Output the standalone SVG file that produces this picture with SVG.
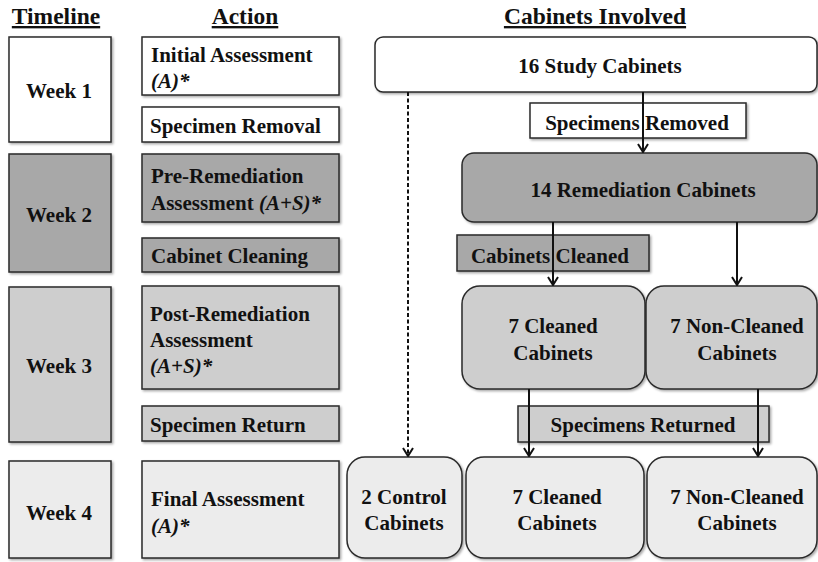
<svg xmlns="http://www.w3.org/2000/svg" width="818" height="562" viewBox="0 0 818 562">
<defs>
<filter id="sh" x="-10%" y="-10%" width="130%" height="130%">
<feDropShadow dx="1.5" dy="1.5" stdDeviation="1.2" flood-color="#000" flood-opacity="0.35"/>
</filter>
<marker id="ahd" viewBox="0 0 12 10" refX="6" refY="9" markerWidth="12" markerHeight="10" markerUnits="userSpaceOnUse" orient="0">
<path d="M1,1 L6,9 L11,1" fill="none" stroke="#111" stroke-width="2"/>
</marker>
</defs>
<style>
.t{font-family:'Times New Roman','Liberation Serif','DejaVu Serif',serif;font-weight:bold;font-size:21px;fill:#111}
.h{font-family:'Times New Roman','Liberation Serif','DejaVu Serif',serif;font-weight:bold;font-size:23.5px;fill:#111;text-decoration:underline}
.c{text-anchor:middle}
.b{stroke:#2a2a2a;stroke-width:1.5;filter:url(#sh)}
.w{fill:#fff}
.g2{fill:#a8a8a8}
.g3{fill:#cecece}
.g4{fill:#ececec}
.conn{stroke:#111;stroke-width:2;fill:none}
.it{font-style:italic}
</style>
<rect width="818" height="562" fill="#fff"/>

<g id="headers" font-family="Times New Roman">
<text class="h c" x="56" y="24">Timeline</text>
<text class="h c" x="245" y="24">Action</text>
<text class="h c" x="595" y="24">Cabinets Involved</text>
</g>

<g id="week1"><rect class="b w" x="9" y="37" width="102" height="105"/><text class="t c" x="59" y="98">Week 1</text></g>
<g id="week2"><rect class="b g2" x="9" y="154" width="102" height="118"/><text class="t c" x="59" y="222">Week 2</text></g>
<g id="week3"><rect class="b g3" x="9" y="287" width="102" height="155"/><text class="t c" x="59" y="373">Week 3</text></g>
<g id="week4"><rect class="b g4" x="9" y="461" width="102" height="97"/><text class="t c" x="59" y="520">Week 4</text></g>

<g id="initial-assessment"><rect class="b w" x="142" y="37" width="197" height="58"/><text class="t" x="151" y="62">Initial Assessment</text><text class="t it" x="151" y="88">(A)*</text></g>
<g id="specimen-removal"><rect class="b w" x="142" y="107" width="197" height="35"/><text class="t" x="150" y="133">Specimen Removal</text></g>
<g id="pre-remediation"><rect class="b g2" x="142" y="154" width="197" height="68"/><text class="t" x="151" y="183">Pre-Remediation</text><text class="t" x="151" y="210">Assessment <tspan class="it">(A+S)*</tspan></text></g>
<g id="cabinet-cleaning"><rect class="b g2" x="142" y="238" width="197" height="34"/><text class="t" x="151" y="263">Cabinet Cleaning</text></g>
<g id="post-remediation"><rect class="b g3" x="142" y="286" width="197" height="103"/><text class="t" x="150" y="321">Post-Remediation</text><text class="t" x="150" y="347">Assessment</text><text class="t it" x="150" y="373">(A+S)*</text></g>
<g id="specimen-return"><rect class="b g3" x="142" y="406" width="197" height="35"/><text class="t" x="150" y="432">Specimen Return</text></g>
<g id="final-assessment"><rect class="b g4" x="142" y="461" width="197" height="97"/><text class="t" x="151" y="506">Final Assessment</text><text class="t it" x="151" y="533">(A)*</text></g>

<g id="study-cabinets"><rect class="b w" x="375" y="37" width="442" height="55" rx="8"/><text class="t c" x="600" y="73">16 Study Cabinets</text></g>
<g id="specimens-removed"><rect class="b w" x="530" y="103" width="216" height="35"/><text class="t c" x="637" y="130">Specimens Removed</text></g>
<g id="remediation-cabinets"><rect class="b g2" x="462" y="153" width="355" height="69" rx="12"/><text class="t c" x="643" y="197">14 Remediation Cabinets</text></g>
<g id="cabinets-cleaned"><rect class="b g2" x="457" y="235" width="192" height="36"/><text class="t c" x="550" y="263">Cabinets Cleaned</text></g>
<g id="cleaned-w3"><rect class="b g3" x="462" y="286" width="183" height="103" rx="18"/><text class="t c" x="553" y="333">7 Cleaned</text><text class="t c" x="553" y="360">Cabinets</text></g>
<g id="noncleaned-w3"><rect class="b g3" x="646" y="286" width="171" height="103" rx="18"/><text class="t c" x="737" y="333">7 Non-Cleaned</text><text class="t c" x="737" y="360">Cabinets</text></g>
<g id="specimens-returned"><rect class="b g3" x="518" y="406" width="251" height="36"/><text class="t c" x="643" y="432">Specimens Returned</text></g>
<g id="control-cabinets"><rect class="b g4" x="347" y="457" width="115" height="101" rx="18"/><text class="t c" x="404" y="504">2 Control</text><text class="t c" x="404" y="530">Cabinets</text></g>
<g id="cleaned-w4"><rect class="b g4" x="466" y="457" width="178" height="101" rx="18"/><text class="t c" x="557" y="504">7 Cleaned</text><text class="t c" x="557" y="530">Cabinets</text></g>
<g id="noncleaned-w4"><rect class="b g4" x="647" y="457" width="170" height="101" rx="18"/><text class="t c" x="737" y="504">7 Non-Cleaned</text><text class="t c" x="737" y="530">Cabinets</text></g>

<g id="connectors">
<line class="conn" x1="643" y1="92" x2="643" y2="152" marker-end="url(#ahd)"/>
<line class="conn" x1="553" y1="222" x2="553" y2="285" marker-end="url(#ahd)"/>
<line class="conn" x1="737" y1="222" x2="737" y2="285" marker-end="url(#ahd)"/>
<line class="conn" x1="529" y1="389" x2="529" y2="456" marker-end="url(#ahd)"/>
<line class="conn" x1="758" y1="389" x2="758" y2="456" marker-end="url(#ahd)"/>
<line class="conn" x1="408" y1="92" x2="408" y2="456" stroke-dasharray="4,2.5" marker-end="url(#ahd)"/>
</g>
</svg>
